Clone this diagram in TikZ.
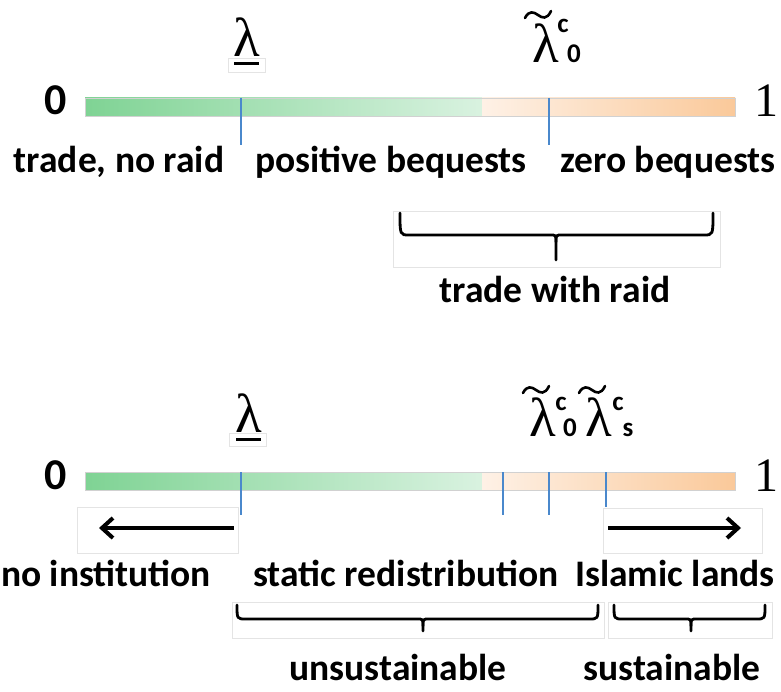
\documentclass[tikz,border=0pt]{standalone}
\usepackage{fontspec}
\setmainfont{Carlito}
\newfontfamily\tnr{Liberation Serif}
\usetikzlibrary{arrows.meta}
\definecolor{gL}{HTML}{7FD394}
\definecolor{gR}{HTML}{D9F2E0}
\definecolor{oL}{HTML}{FEF1E6}
\definecolor{oR}{HTML}{FAC99A}
\definecolor{tickc}{HTML}{4A88CC}
\definecolor{faint}{HTML}{E4E4E4}
\newcommand\mybrace[6]{%
  \draw[bracestyle] (#1,#4) .. controls (#1,#5) .. ({#1+9},#5) -- ({#3-6},#5) .. controls (#3,#5) .. (#3,{#5+7}) -- (#3,#6);
  \draw[bracestyle] (#3,{#5+7}) .. controls (#3,#5) .. ({#3+6},#5) -- ({#2-9},#5) .. controls (#2,#5) .. (#2,#4);}
\newcommand\mytilde[2]{%
  \draw[tildestyle] ({#1-13},{#2+3}) .. controls ({#1-9},{#2-5}) and ({#1-4},{#2-3}) .. (#1,#2) .. controls ({#1+4},{#2+3}) and ({#1+9},{#2+5}) .. ({#1+13},{#2-4});}
\begin{document}
\begin{tikzpicture}[x=1pt,y=-1pt,
  lab/.style={font=\fontsize{37.5}{40}\selectfont\bfseries, anchor=base, inner sep=0pt},
  lam/.style={font=\fontsize{55}{58}\selectfont\tnr, anchor=base, inner sep=0pt},
  scr/.style={font=\fontsize{27}{30}\selectfont\bfseries, anchor=base, inner sep=0pt},
  zero/.style={font=\fontsize{44}{46}\selectfont\bfseries, anchor=base, inner sep=0pt},
  one/.style={font=\fontsize{48}{50}\selectfont\tnr, anchor=base, inner sep=0pt},
  tickline/.style={draw=tickc, line width=1.2pt},
  barframe/.style={draw=black!18, line width=0.6pt},
  bracestyle/.style={draw=black, line width=2.8pt, line cap=round},
  tildestyle/.style={draw=black, line width=2.6pt, line cap=round},
  faintbox/.style={draw=faint, line width=0.6pt},
  uline/.style={draw=black, line width=3pt},
  arr/.style={draw=black, line width=4pt, -{Straight Barb[length=11pt,width=20pt,line width=4pt]}}
]
\useasboundingbox (0,0) rectangle (781,692);

% ---------- top scale ----------
\shade[left color=gL, right color=gR] (85,98) rectangle (482,116);
\shade[left color=oL, right color=oR] (482,98) rectangle (735,116);
\node[barframe, minimum width=650pt, minimum height=18pt, inner sep=0pt] (bar1) at (410,107) {};
\node[zero] (z1) at (56,115) {0};
\node[one] (o1) at (766,117) {1};

\coordinate (a1) at (241,98); \coordinate (a2) at (241,145);
\coordinate (b1) at (549,98); \coordinate (b2) at (549,145);
\draw[tickline] (a1) -- (a2);
\draw[tickline] (b1) -- (b2);

% underlined lambda
\node[lam] (lu1) at (247,57) {λ};
\draw[faintbox] (228,58) rectangle (265,72);
\coordinate (u1a) at (234,64); \coordinate (u1b) at (259,64);
\draw[uline] (u1a) -- (u1b);

% lambda tilde c 0
\node[lam] (lt1) at (546,63) {λ};
\mytilde{538}{15}
\node[scr] (c1) at (563,33) {c};
\node[scr] (s1) at (574,63) {0};

\node[lab] (t1) at (119,173) {trade, no raid};
\node[lab] (t2) at (391,173) {positive bequests};
\node[lab] (t3) at (668,173) {zero bequests};

\draw[faintbox] (393,211) rectangle (720,267);
\mybrace{400}{713}{556}{213}{235}{260}
\node[lab] (t4) at (555,303) {trade with raid};

% ---------- bottom scale ----------
\shade[left color=gL, right color=gR] (85,472) rectangle (482,490);
\shade[left color=oL, right color=oR] (482,472) rectangle (735,490);
\node[barframe, minimum width=650pt, minimum height=18pt, inner sep=0pt] (bar2) at (410,481) {};
\node[zero] (z2) at (56,489) {0};
\node[one] (o2) at (766,491) {1};

\coordinate (d1) at (241,472); \coordinate (d2) at (241,515);
\coordinate (e1) at (503,472); \coordinate (e2) at (503,515);
\coordinate (f1) at (549,472); \coordinate (f2) at (549,515);
\coordinate (g1) at (606,472); \coordinate (g2) at (606,507);
\draw[tickline] (d1) -- (d2);
\draw[tickline] (e1) -- (e2);
\draw[tickline] (f1) -- (f2);
\draw[tickline] (g1) -- (g2);

\node[lam] (lu2) at (249,432) {λ};
\draw[faintbox] (229,433) rectangle (266,446);
\coordinate (u2a) at (236,439); \coordinate (u2b) at (261,439);
\draw[uline] (u2a) -- (u2b);

\node[lam] (lt2) at (543,436) {λ};
\mytilde{536}{390}
\node[scr] (c2) at (561,410) {c};
\node[scr] (s2) at (570,436) {0};

\node[lam] (lt3) at (599,436) {λ};
\mytilde{592}{390}
\node[scr] (c3) at (618,410) {c};
\node[scr] (s3) at (628,436) {s};

% arrows
\draw[faintbox] (77,507) rectangle (238,553);
\draw[faintbox] (603,508) rectangle (762,553);
\coordinate (la1) at (234,528); \coordinate (la2) at (99,528);
\coordinate (ra1) at (608,528); \coordinate (ra2) at (741,528);
\draw[arr] (la1) -- (la2);
\draw[arr] (ra1) -- (ra2);

\node[lab] (b1) at (106,586) {no institution};
\node[lab] (b2) at (406,586) {static redistribution};
\node[lab] (b3) at (675,586) {Islamic lands};

\draw[faintbox] (232,602) rectangle (604,638);
\draw[faintbox] (608,602) rectangle (772,638);
\mybrace{237}{598}{423}{605}{619}{631}
\mybrace{614}{765}{691}{605}{619}{631}

\node[lab] (b4) at (398,680) {unsustainable};
\node[lab] (b5) at (672,680) {sustainable};
\end{tikzpicture}
\end{document}
